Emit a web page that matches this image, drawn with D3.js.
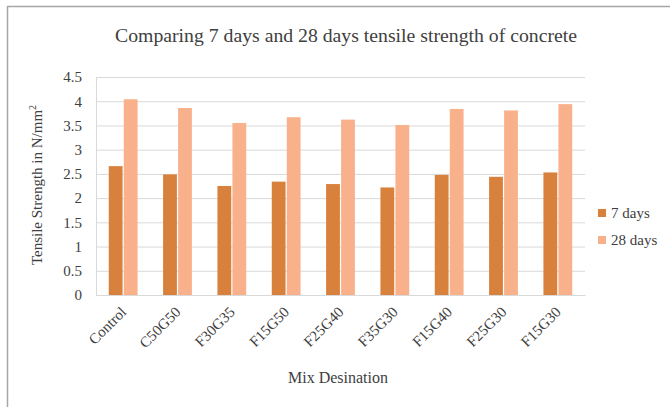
<!DOCTYPE html>
<html><head><meta charset="utf-8">
<script src="https://cdn.jsdelivr.net/npm/d3@7/dist/d3.min.js"></script>
<style>body{margin:0;background:#fff}</style>
</head><body><svg id="c" width="670" height="407"></svg>
<script>
const categories = ["Control","C50G50","F30G35","F15G50","F25G40","F35G30","F15G40","F25G30","F15G30"];
const days7 = [2.66,2.49,2.25,2.34,2.29,2.22,2.48,2.44,2.53];
const days28 = [4.04,3.86,3.55,3.67,3.62,3.51,3.84,3.81,3.94];
const seriesNames = ["7 days","28 days"];
const yTicks = [0,0.5,1,1.5,2,2.5,3,3.5,4,4.5];
const colors = ["#d8813c","#f9b18b"];
const FF = '"Liberation Serif"';
const TXT = "#404040";

const svg = d3.select("#c");
svg.append("rect").attr("x",7.5).attr("y",6.5).attr("width",700).attr("height",450)
  .attr("fill","#fff").attr("stroke","#a6a6a6").attr("stroke-width",1.5);

const m = {l:96, r:585, t:77, b:295};
const x = d3.scaleBand().domain(categories).range([m.l,m.r]).paddingInner(0.47).paddingOuter(0.235);
const xs = d3.scaleBand().domain(seriesNames).range([0,x.bandwidth()]).paddingInner(0.08);
const y = d3.scaleLinear().domain([0,4.5]).range([m.b,m.t]);

// gridlines
svg.append("g").selectAll("line").data(yTicks).join("line")
  .attr("x1",m.l).attr("x2",m.r).attr("y1",d=>y(d)+0.5).attr("y2",d=>y(d)+0.5)
  .attr("stroke","#d9d9d9").attr("stroke-width",1);
svg.append("line").attr("x1",m.l+0.5).attr("x2",m.l+0.5).attr("y1",m.t).attr("y2",m.b)
  .attr("stroke","#d9d9d9");

// y axis
const ya = svg.append("g").attr("transform",`translate(${m.l},0)`)
  .call(d3.axisLeft(y).tickValues(yTicks).tickSize(0).tickPadding(14).tickFormat(d=>String(d)));
ya.select(".domain").remove();
ya.selectAll("text").style("font-family",FF).style("font-size","15px").attr("fill",TXT);

// bars
const data = categories.map((c,i)=>({c, v:[days7[i],days28[i]]}));
const g = svg.append("g");
data.forEach(d=>{
  seriesNames.forEach((s,j)=>{
    g.append("rect").attr("x",x(d.c)+xs(s)).attr("width",xs.bandwidth())
      .attr("y",y(d.v[j])).attr("height",y(0)-y(d.v[j])).attr("fill",colors[j]);
  });
});

// x axis
const xa = svg.append("g").attr("transform",`translate(0,${m.b})`)
  .call(d3.axisBottom(x).tickSize(0).tickPadding(0));
xa.select(".domain").attr("stroke","#d9d9d9");
xa.selectAll("text").style("font-family",FF).style("font-size","15px").attr("fill",TXT)
  .attr("text-anchor","end").attr("dy",0)
  .attr("transform","translate(4,18) rotate(-45)");

// titles
svg.append("text").attr("x",346).attr("y",42).attr("text-anchor","middle")
  .style("font-family",FF).style("font-size","18px").attr("fill",TXT)
  .attr("textLength",462).attr("lengthAdjust","spacingAndGlyphs")
  .text("Comparing 7 days and 28 days tensile strength of concrete");
svg.append("text").attr("x",338).attr("y",383).attr("text-anchor","middle")
  .style("font-family",FF).style("font-size","16px").attr("fill",TXT).text("Mix Desination");
const yt = svg.append("text").attr("transform","translate(42,185) rotate(-90)").attr("text-anchor","middle")
  .style("font-family",FF).style("font-size","15px").attr("fill",TXT);
yt.append("tspan").text("Tensile  Strength in N/mm");
yt.append("tspan").attr("dy",-6).style("font-size","10px").text("2");

// legend
const lg = svg.append("g").attr("transform","translate(598,213)");
seriesNames.forEach((s,i)=>{
  lg.append("rect").attr("x",0).attr("y",i*27-4).attr("width",8).attr("height",8).attr("fill",colors[i]);
  lg.append("text").attr("x",13).attr("y",i*27+5).style("font-family",FF).style("font-size","15px").attr("fill",TXT).text(s);
});
</script></body></html>
